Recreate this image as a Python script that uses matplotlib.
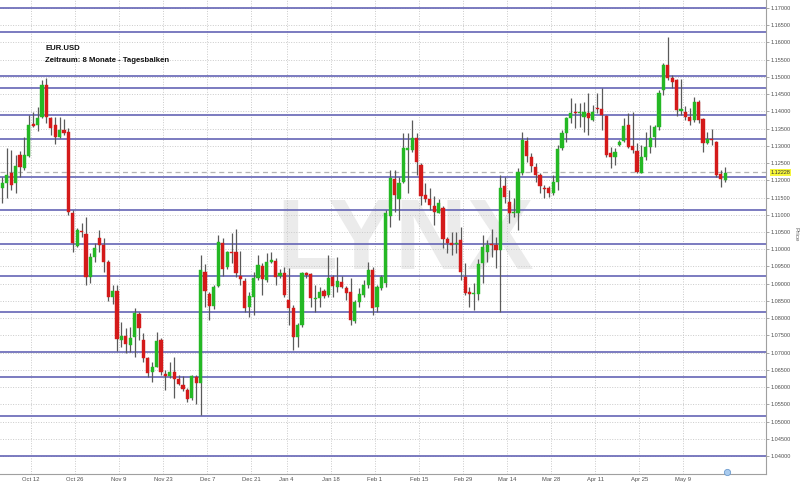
import matplotlib
matplotlib.use('Agg')
import matplotlib.pyplot as plt
from matplotlib.ticker import FormatStrFormatter
import numpy as np
import pandas as pd

plt.rcParams['font.family'] = ['Liberation Sans', 'DejaVu Sans']

# ---------------- data ----------------
dates = pd.bdate_range('2015-10-01', '2016-05-23')
dates = dates[~dates.isin(pd.to_datetime(['2015-12-25', '2016-01-01']))]

opens = [1.1177, 1.1191, 1.1222, 1.1191, 1.1273, 1.1235, 1.1271, 1.1362, 1.1360, 1.1385,
         1.1477, 1.1380, 1.1361, 1.1327, 1.1346, 1.1341, 1.1106, 1.1009, 1.1053, 1.1044,
         1.0920, 1.0978, 1.1032, 1.1012, 1.0964, 1.0862, 1.0880, 1.0737, 1.0748, 1.0722,
         1.0746, 1.0812, 1.0737, 1.0683, 1.0645, 1.0659, 1.0737, 1.0638, 1.0633, 1.0645,
         1.0622, 1.0606, 1.0591, 1.0567, 1.0630, 1.0613, 1.0935, 1.0870, 1.0835, 1.0893,
         1.1019, 1.0949, 1.0993, 1.0993, 1.0923, 1.0908, 1.0833, 1.0862, 1.0916, 1.0951,
         1.0911, 1.0964, 1.0966, 1.0923, 1.0930, 1.0853, 1.0830, 1.0746, 1.0780, 1.0930,
         1.0927, 1.0856, 1.0859, 1.0879, 1.0867, 1.0918, 1.0891, 1.0904, 1.0888, 1.0875,
         1.0792, 1.0848, 1.0866, 1.0896, 1.0940, 1.0833, 1.0887, 1.0901, 1.1095, 1.1203,
         1.1145, 1.1196, 1.1288, 1.1288, 1.1322, 1.1244, 1.1157, 1.1145, 1.1124, 1.1106,
         1.1121, 1.1029, 1.1019, 1.1015, 1.1027, 1.0918, 1.0877, 1.0870, 1.0870, 1.0959,
         1.0993, 1.1014, 1.1011, 1.0999, 1.1182, 1.1138, 1.1104, 1.1106, 1.1220, 1.1315,
         1.1269, 1.1239, 1.1215, 1.1179, 1.1177, 1.1162, 1.1196, 1.1293, 1.1336, 1.1380,
         1.1399, 1.1394, 1.1385, 1.1396, 1.1375, 1.1409, 1.1406, 1.1387, 1.1278, 1.1269,
         1.1302, 1.1314, 1.1360, 1.1300, 1.1286, 1.1222, 1.1269, 1.1298, 1.1325, 1.1354,
         1.1462, 1.1535, 1.1498, 1.1491, 1.1402, 1.1399, 1.1383, 1.1375, 1.1428, 1.1377,
         1.1307, 1.1320, 1.1312, 1.1218, 1.1201]
highs = [1.1210, 1.1293, 1.1288, 1.1273, 1.1285, 1.1327, 1.1390, 1.1399, 1.1414, 1.1491,
         1.1496, 1.1385, 1.1385, 1.1385, 1.1377, 1.1351, 1.1114, 1.1061, 1.1075, 1.1094,
         1.0988, 1.1017, 1.1056, 1.1032, 1.0970, 1.0895, 1.0895, 1.0790, 1.0770, 1.0773,
         1.0828, 1.0819, 1.0756, 1.0688, 1.0674, 1.0761, 1.0742, 1.0649, 1.0672, 1.0688,
         1.0635, 1.0632, 1.0596, 1.0635, 1.0635, 1.0983, 1.0956, 1.0877, 1.0896, 1.1041,
         1.1032, 1.0995, 1.1046, 1.1060, 1.0995, 1.0916, 1.0877, 1.0935, 1.0983, 1.0959,
         1.0988, 1.0993, 1.0974, 1.0944, 1.0949, 1.0945, 1.0838, 1.0785, 1.0935, 1.0935,
         1.0930, 1.0896, 1.0891, 1.0886, 1.0983, 1.0925, 1.0976, 1.0921, 1.0893, 1.0916,
         1.0853, 1.0887, 1.0911, 1.0964, 1.0949, 1.0896, 1.0925, 1.1114, 1.1230, 1.1230,
         1.1211, 1.1336, 1.1336, 1.1375, 1.1336, 1.1249, 1.1191, 1.1177, 1.1153, 1.1147,
         1.1124, 1.1036, 1.1051, 1.1049, 1.1065, 1.0961, 1.0891, 1.0901, 1.0972, 1.1041,
         1.1027, 1.1058, 1.1036, 1.1215, 1.1211, 1.1172, 1.1148, 1.1235, 1.1341, 1.1327,
         1.1278, 1.1249, 1.1220, 1.1186, 1.1182, 1.1215, 1.1302, 1.1346, 1.1385, 1.1438,
         1.1423, 1.1423, 1.1428, 1.1452, 1.1418, 1.1452, 1.1467, 1.1390, 1.1296, 1.1293,
         1.1317, 1.1380, 1.1394, 1.1399, 1.1307, 1.1302, 1.1341, 1.1360, 1.1361, 1.1462,
         1.1539, 1.1617, 1.1506, 1.1493, 1.1493, 1.1416, 1.1409, 1.1443, 1.1433, 1.1380,
         1.1341, 1.1348, 1.1314, 1.1230, 1.1240]
lows = [1.1133, 1.1148, 1.1172, 1.1162, 1.1211, 1.1230, 1.1267, 1.1354, 1.1344, 1.1382,
        1.1365, 1.1332, 1.1305, 1.1324, 1.1331, 1.1099, 1.0993, 1.1007, 1.1036, 1.0896,
        1.0901, 1.0964, 1.0993, 1.0935, 1.0850, 1.0840, 1.0705, 1.0717, 1.0698, 1.0702,
        1.0688, 1.0737, 1.0674, 1.0630, 1.0616, 1.0657, 1.0635, 1.0591, 1.0625, 1.0567,
        1.0606, 1.0589, 1.0558, 1.0562, 1.0551, 1.0519, 1.0833, 1.0795, 1.0826, 1.0891,
        1.0922, 1.0944, 1.0959, 1.0920, 1.0896, 1.0819, 1.0804, 1.0809, 1.0911, 1.0867,
        1.0906, 1.0959, 1.0896, 1.0916, 1.0862, 1.0780, 1.0708, 1.0717, 1.0775, 1.0916,
        1.0833, 1.0819, 1.0833, 1.0858, 1.0862, 1.0862, 1.0877, 1.0887, 1.0853, 1.0780,
        1.0785, 1.0833, 1.0860, 1.0887, 1.0809, 1.0819, 1.0882, 1.0891, 1.1065, 1.1109,
        1.1085, 1.1191, 1.1162, 1.1283, 1.1215, 1.1128, 1.1138, 1.1114, 1.1070, 1.1104,
        1.1003, 1.0988, 1.0983, 1.0988, 1.0911, 1.0867, 1.0833, 1.0824, 1.0853, 1.0901,
        1.0964, 1.0978, 1.0945, 1.0819, 1.1133, 1.1075, 1.1094, 1.1056, 1.1215, 1.1254,
        1.1225, 1.1196, 1.1162, 1.1148, 1.1152, 1.1157, 1.1172, 1.1288, 1.1312, 1.1365,
        1.1351, 1.1356, 1.1341, 1.1331, 1.1373, 1.1394, 1.1346, 1.1269, 1.1235, 1.1244,
        1.1300, 1.1312, 1.1293, 1.1278, 1.1220, 1.1220, 1.1259, 1.1278, 1.1298, 1.1346,
        1.1448, 1.1491, 1.1467, 1.1387, 1.1389, 1.1375, 1.1360, 1.1370, 1.1365, 1.1283,
        1.1306, 1.1302, 1.1211, 1.1180, 1.1196]
closes = [1.1193, 1.1215, 1.1186, 1.1242, 1.1238, 1.1273, 1.1361, 1.1358, 1.1380, 1.1477,
          1.1385, 1.1351, 1.1327, 1.1346, 1.1338, 1.1109, 1.1017, 1.1056, 1.1050, 1.0920,
          1.0978, 1.1003, 1.1012, 1.0964, 1.0862, 1.0880, 1.0740, 1.0748, 1.0725, 1.0741,
          1.0814, 1.0770, 1.0683, 1.0640, 1.0659, 1.0734, 1.0645, 1.0633, 1.0643, 1.0623,
          1.0609, 1.0593, 1.0564, 1.0633, 1.0613, 1.0940, 1.0879, 1.0835, 1.0891, 1.1022,
          1.0942, 1.0993, 1.0990, 1.0930, 1.0914, 1.0828, 1.0864, 1.0916, 1.0954, 1.0914,
          1.0964, 1.0969, 1.0920, 1.0932, 1.0867, 1.0830, 1.0746, 1.0780, 1.0930, 1.0925,
          1.0859, 1.0858, 1.0877, 1.0865, 1.0916, 1.0894, 1.0908, 1.0891, 1.0872, 1.0795,
          1.0848, 1.0869, 1.0896, 1.0940, 1.0829, 1.0891, 1.0920, 1.1104, 1.1206, 1.1157,
          1.1191, 1.1293, 1.1293, 1.1322, 1.1254, 1.1154, 1.1145, 1.1128, 1.1109, 1.1133,
          1.1029, 1.1019, 1.1013, 1.1019, 1.0935, 1.0874, 1.0869, 1.0873, 1.0957, 1.1007,
          1.1012, 1.1011, 1.0999, 1.1177, 1.1151, 1.1104, 1.1108, 1.1225, 1.1317, 1.1271,
          1.1241, 1.1215, 1.1182, 1.1176, 1.1164, 1.1196, 1.1290, 1.1338, 1.1380, 1.1396,
          1.1394, 1.1397, 1.1399, 1.1380, 1.1399, 1.1406, 1.1389, 1.1273, 1.1269, 1.1283,
          1.1312, 1.1358, 1.1298, 1.1288, 1.1225, 1.1269, 1.1298, 1.1322, 1.1354, 1.1452,
          1.1535, 1.1498, 1.1486, 1.1404, 1.1407, 1.1383, 1.1373, 1.1428, 1.1375, 1.1309,
          1.1319, 1.1317, 1.1215, 1.1203, 1.1222]

tick_dates = ['2015-10-12', '2015-10-26', '2015-11-09', '2015-11-23', '2015-12-07',
              '2015-12-21', '2016-01-04', '2016-01-18', '2016-02-01', '2016-02-15',
              '2016-02-29', '2016-03-14', '2016-03-28', '2016-04-11', '2016-04-25',
              '2016-05-09']
tick_labels = ['Oct 12', 'Oct 26', 'Nov 9', 'Nov 23', 'Dec 7', 'Dec 21', 'Jan 4',
               'Jan 18', 'Feb 1', 'Feb 15', 'Feb 29', 'Mar 14', 'Mar 28', 'Apr 11',
               'Apr 25', 'May 9']
price_ticks = [1.040, 1.045, 1.050, 1.055, 1.060, 1.065, 1.070, 1.075, 1.080, 1.085,
               1.090, 1.095, 1.100, 1.105, 1.110, 1.115, 1.120, 1.125, 1.130, 1.135,
               1.140, 1.145, 1.150, 1.155, 1.160, 1.165, 1.170]

levels = [1.1700, 1.1630, 1.1503, 1.1467, 1.1390, 1.1319, 1.1209, 1.1113, 1.1015,
          1.0923, 1.0818, 1.0701, 1.0629, 1.0517, 1.0401]
last_price = 1.12228

# ---------------- figure ----------------
W, H = 800, 486
fig = plt.figure(figsize=(W / 100, H / 100), dpi=100)
ax = fig.add_axes([0, 12 / H, 766 / W, 474 / H])

x = np.arange(len(opens))
o = np.array(opens); c = np.array(closes)
hi = np.array(highs); lo = np.array(lows)

ax.set_xlim(-0.533, 173.28)
ax.set_ylim(1.03477, 1.17232)

# grid
ax.yaxis.tick_right()
ax.set_yticks(price_ticks)
ax.yaxis.set_major_formatter(FormatStrFormatter('%.5f'))
pos = [dates.get_loc(pd.Timestamp(d)) - 0.5 for d in tick_dates]
ax.set_xticks(pos)
ax.set_xticklabels(tick_labels)
ax.grid(True, color='#cacaca', linestyle=(0, (1, 1.6)), linewidth=0.7, zorder=0)
ax.set_axisbelow(True)

ax.tick_params(axis='y', which='major', direction='out', length=2.2, width=0.6,
               color='#999999', pad=0.8, labelsize=4.0, labelcolor='#505050')
ax.tick_params(axis='x', which='major', length=0, pad=2.5, labelsize=4.2,
               labelcolor='#505050')

for s in ['left', 'top']:
    ax.spines[s].set_visible(False)
for s in ['right', 'bottom']:
    ax.spines[s].set_color('#a0a0a0')
    ax.spines[s].set_linewidth(0.8)

# watermark
ax.text(405 / 766, (474 - 243) / 474, 'LYNX', transform=ax.transAxes, ha='center',
        va='center', fontsize=72, fontweight='bold', family='Liberation Sans',
        color='#ebebeb', zorder=0.5)

# support / resistance lines
for lv in levels:
    ax.axhline(lv, color='#6b6bb8', linewidth=1.25, zorder=1.5)
ax.axhline(last_price, color='#b4b4b4', linestyle=(0, (4, 3)), linewidth=0.9, zorder=1.6)

# candles
up = c >= o
colors = np.where(up, '#24b824', '#d41a1a')
ax.vlines(x, lo, hi, color='#5a5a5a', linewidth=0.9, zorder=3)
body_h = np.maximum(np.abs(c - o), 0.00018)
ax.bar(x, body_h, bottom=np.minimum(o, c), width=0.72, color=colors,
       edgecolor=colors, linewidth=0.3, zorder=4)

# current price label
ax.annotate(f'{last_price:.5f}', xy=(1, last_price), xycoords=('axes fraction', 'data'),
            xytext=(3.0, 0), textcoords='offset points', ha='left', va='center',
            fontsize=4.0, color='#333333', annotation_clip=False,
            bbox=dict(boxstyle='square,pad=0.12', fc='#f6f63a', ec='none'))

# event marker at bottom
ax.plot([x[-1] + 0.4], [1.03477 + 0.0006], marker='o', ms=4.5, mfc='#a9cbee',
        mec='#6d9ccf', mew=0.6, clip_on=False, zorder=6)

# titles
fig.text(45 / W, 1 - 48 / H, 'EUR.USD', fontsize=5.6, fontweight='bold',
         va='center', ha='left', color='#111111')
fig.text(45 / W, 1 - 61 / H, 'Zeitraum: 8 Monate - Tagesbalken', fontsize=5.6,
         fontweight='bold', va='center', ha='left', color='#111111')
fig.text(796 / W, 1 - 234 / H, 'Price', rotation=270, fontsize=4.6, color='#666666',
         ha='center', va='center')

fig.savefig('out.png', dpi=100)
